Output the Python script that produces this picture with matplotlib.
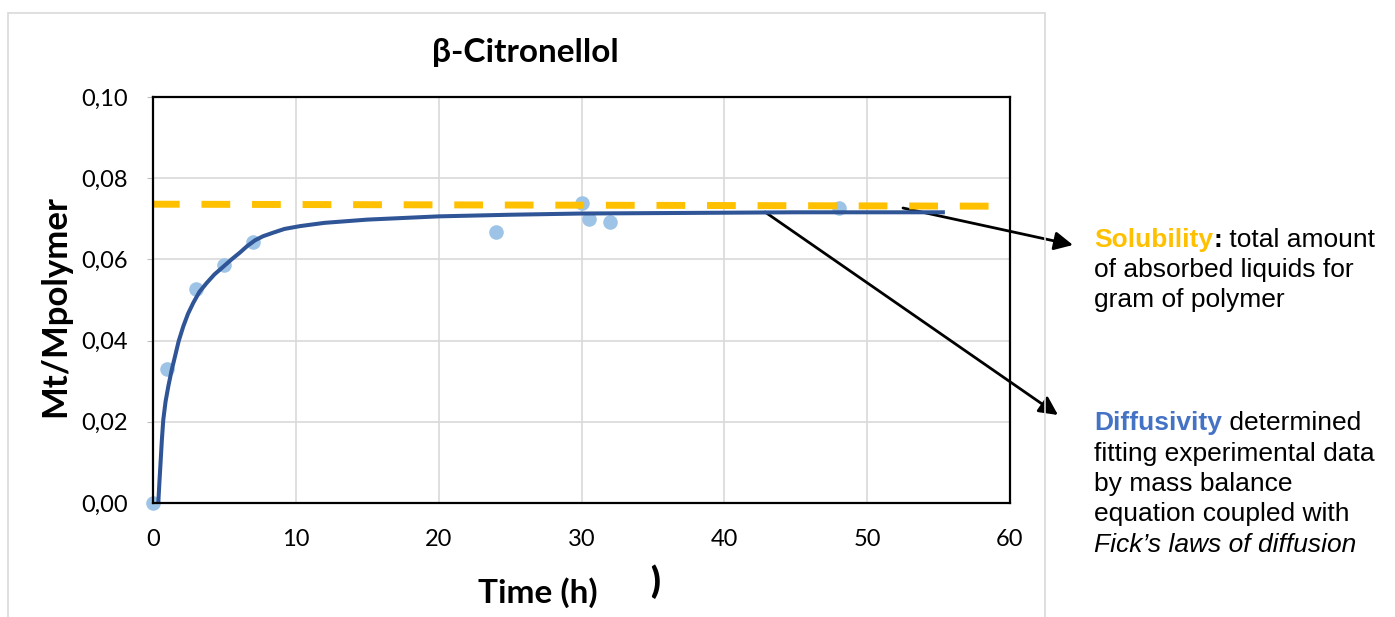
import matplotlib.pyplot as plt
from matplotlib.patches import Rectangle

# --- Data ---
time_h = [0, 1, 3, 5, 7, 24, 30, 30.5, 32, 48]
mt_mpolymer = [0.0, 0.0331, 0.0526, 0.0585, 0.0643, 0.0668, 0.0738, 0.0700, 0.0691, 0.0727]

# fitted model curve
fit_t = [0.37, 0.45, 0.54, 0.62, 0.72, 0.88, 1.07, 1.3, 1.54, 1.8, 2.12, 2.45, 2.82,
         3.25, 3.76, 4.3, 4.92, 5.5, 6.09, 6.6, 7.14, 7.7, 8.43, 9.2, 10.3,
         12, 15, 20, 25, 30, 35, 40, 45, 50, 55.3]
fit_y = [0.0, 0.0052, 0.0106, 0.0155, 0.0205, 0.0250, 0.0287, 0.0326, 0.0361, 0.0399,
         0.0435, 0.0466, 0.0493, 0.0520, 0.0542, 0.0563, 0.0582, 0.0600, 0.0617,
         0.0633, 0.0647, 0.0657, 0.0666, 0.0675, 0.0682, 0.0690, 0.0698, 0.0706,
         0.0710, 0.0713, 0.0714, 0.0715, 0.0716, 0.0716, 0.0716]

# solubility level (dashed)
sol_t = [0, 60]
sol_y = [0.0736, 0.0731]

x_ticks = [0, 10, 20, 30, 40, 50, 60]
y_ticks = [0.0, 0.02, 0.04, 0.06, 0.08, 0.10]
y_tick_labels = ['0,00', '0,02', '0,04', '0,06', '0,08', '0,10']

title = 'β-Citronellol'
x_label = 'Time (h)'
y_label = 'Mt/Mpolymer'

sol_head = 'Solubility'
sol_first_rest = ' total amount'
sol_lines = ['of absorbed liquids for', 'gram of polymer']
dif_head = 'Diffusivity'
dif_first_rest = ' determined'
dif_lines = ['fitting experimental data', 'by mass balance', 'equation coupled with']
dif_last = 'Fick’s laws of diffusion'

# --- Figure setup ---
W, H = 1395, 617
plt.rcParams['font.family'] = ['Lato', 'DejaVu Sans']


def fx(px):
    return px / W


def fy(py):
    return 1 - py / H


fig = plt.figure(figsize=(W / 100, H / 100), dpi=100)
fig.add_artist(Rectangle((fx(8), -0.1), fx(1045) - fx(8), fy(13) + 0.1,
                         transform=fig.transFigure, fill=False,
                         edgecolor='#D9D9D9', lw=1.2))

ax = fig.add_axes([fx(153), fy(503), fx(1010) - fx(153), fy(97) - fy(503)])

ax.scatter(time_h, mt_mpolymer, s=110, color='#9DC3E6', linewidths=0, zorder=3, clip_on=False)
ax.plot(fit_t, fit_y, color='#2F5597', lw=2.9, zorder=4)
ax.plot(sol_t, sol_y, color='#FFC000', lw=5, linestyle=(0.3, (4.14, 3.14)), zorder=5)

ax.set_xlim(0, 60)
ax.set_ylim(0, 0.10)
ax.set_xticks(x_ticks)
ax.set_yticks(y_ticks)
ax.set_yticklabels(y_tick_labels)
ax.grid(color='#D9D9D9', lw=1.2)
ax.set_axisbelow(True)
ax.tick_params(axis='x', length=0, pad=19, labelsize=17)
ax.tick_params(axis='y', length=4, color='#BFBFBF', pad=14, labelsize=17)
for s in ax.spines.values():
    s.set_linewidth(1.6)
    s.set_color('black')
    s.set_zorder(6)

# --- Titles and labels ---
fig.text(fx(525), fy(62), title, ha='center', va='baseline', fontsize=24, weight='bold')
fig.text(fx(538), fy(603), x_label, ha='center', va='baseline', fontsize=24, weight='bold')
fig.text(fx(650), fy(593), ')', ha='left', va='baseline', fontsize=25, weight='heavy')
fig.text(fx(55), fy(306), y_label, ha='center', va='center', rotation=90,
         fontsize=25, weight='bold')

# --- Arrows ---
arrow = dict(arrowstyle='-|>', color='black', lw=2, mutation_scale=28, shrinkA=0, shrinkB=0)
ax.annotate('', xy=(1073, H - 245), xytext=(903, H - 208), xycoords='figure pixels',
            textcoords='figure pixels', arrowprops=arrow, annotation_clip=False)
ax.annotate('', xy=(1058, H - 415), xytext=(765, H - 212), xycoords='figure pixels',
            textcoords='figure pixels', arrowprops=arrow, annotation_clip=False)

# --- Side notes ---
note = dict(family=['Liberation Sans', 'DejaVu Sans'], fontsize=19, va='baseline')
t = fig.text(fx(1094), fy(247), sol_head, color='#FFC000', weight='bold', **note)
t2 = ax.annotate(':', xy=(1, 0), xycoords=t, va='bottom', ha='left', weight='bold',
                 family=['Liberation Sans', 'DejaVu Sans'], fontsize=19)
ax.annotate(sol_first_rest, xy=(1, 0), xycoords=t2, va='bottom', ha='left',
            family=['Liberation Sans', 'DejaVu Sans'], fontsize=19)
for i, line in enumerate(sol_lines):
    fig.text(fx(1094), fy(277 + 30.5 * i), line, **note)

t = fig.text(fx(1094), fy(430), dif_head, color='#4472C4', weight='bold', **note)
ax.annotate(dif_first_rest, xy=(1, 0), xycoords=t, va='bottom', ha='left',
            family=['Liberation Sans', 'DejaVu Sans'], fontsize=19)
for i, line in enumerate(dif_lines):
    fig.text(fx(1094), fy(460.5 + 30.5 * i), line, **note)
fig.text(fx(1094), fy(552), dif_last, style='italic', **note)

fig.savefig('out.png', dpi=100)
